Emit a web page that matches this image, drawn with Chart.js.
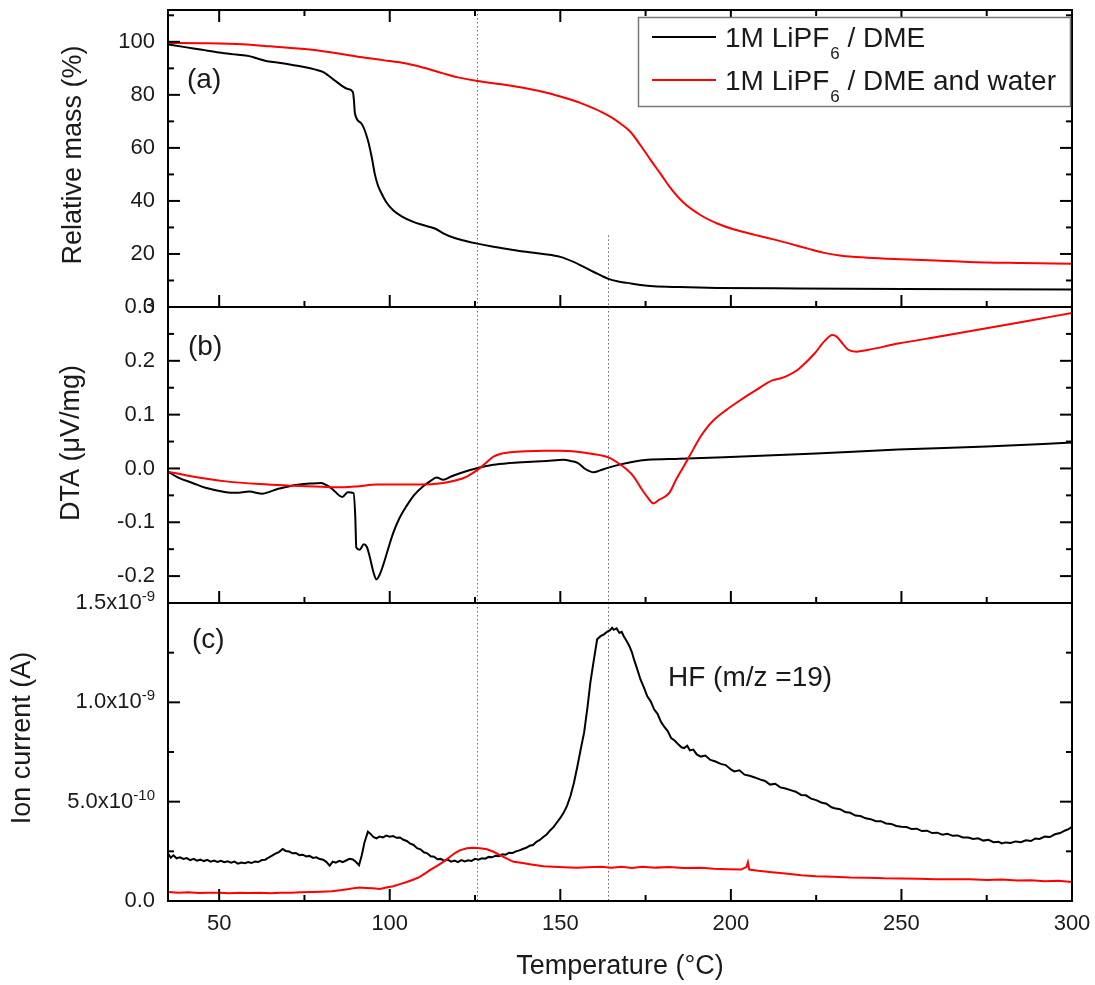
<!DOCTYPE html>
<html>
<head>
<meta charset="utf-8">
<script src="https://cdn.jsdelivr.net/npm/chart.js@4.4.1/dist/chart.umd.min.js"></script>
<style>
  body { margin: 0; background: #fff; }
  #wrap { position: relative; width: 1095px; height: 985px; }
  canvas { position: absolute; left: 0; }
</style>
</head>
<body>
<div id="wrap">
  <canvas id="cMass" width="1095" height="330" style="top:0px"></canvas>
  <canvas id="cDta" width="1095" height="336" style="top:290px"></canvas>
  <canvas id="cIon" width="1095" height="400" style="top:585px"></canvas>
</div>
<script>
// ---- series names (legend) ----
const legendMain = ['1M LiPF', '1M LiPF'];
const legendSub = ['6', '6'];
const legendTail = [' / DME', ' / DME and water'];
const seriesColors = ['#000000', '#ff0000'];

// ---- axis ticks ----
const tempMajor = [50, 100, 150, 200, 250, 300];
const tempMinor = [75, 125, 175, 225, 275];
const massMajor = [0, 20, 40, 60, 80, 100];
const massMinor = [10, 30, 50, 70, 90, 110];
const dtaMajor = [-0.2, -0.1, 0, 0.1, 0.2, 0.3];
const dtaMinor = [-0.15, -0.05, 0.05, 0.15, 0.25];
const ionMajor = [0, 5e-10, 1e-9, 1.5e-9];
const ionMinor = [2.5e-10, 7.5e-10, 1.25e-9];
const ionTickBase = ['0.0', '5.0x10', '1.0x10', '1.5x10'];
const ionTickExp = ['', '-10', '-9', '-9'];

// dotted guide lines (temperature, degC)
const markerTemps = [125.7, 163.9];

// ---- (a) relative mass, % ----
const massT1 = [35, 40, 45, 50, 55, 58.8, 61, 63.7, 67, 70, 74.5, 78, 80.4, 82, 84, 85.8, 87.5, 89.2, 89.5, 89.8, 91.7, 93.6, 94.8, 95.6, 96.5, 97.6, 99, 101, 103.5, 106.9, 110, 113.2, 116, 118.6, 122, 125.7, 130, 135.3, 140, 145, 150, 153.9, 157, 159.8, 163.9, 167, 169.6, 173.5, 177.4, 185, 196, 220, 250, 273.5, 300];
const mass1 = [99.0, 98.0, 97.0, 96.0, 95.2, 94.6, 93.8, 92.8, 92.2, 91.6, 90.6, 89.6, 88.7, 87.3, 85.3, 83.6, 82.3, 81.1, 78, 73, 69.2, 62.9, 56, 50.3, 46, 42.8, 39.5, 36.5, 34.2, 32.1, 30.8, 29.6, 27.6, 26.2, 25.0, 23.9, 22.8, 21.7, 20.8, 20.0, 18.9, 17.0, 15.0, 13.2, 10.7, 9.6, 9.1, 8.3, 7.8, 7.5, 7.2, 7.0, 6.8, 6.7, 6.6];
const massT2 = [35, 45, 56.9, 65, 76.5, 85, 91.2, 98, 104.9, 110, 115.7, 120, 125.7, 132, 140.2, 146, 152, 156, 159.8, 162, 165, 167.6, 170.6, 173.5, 176.5, 179.5, 182.4, 186, 191.2, 196, 201, 207, 212.8, 217, 222.6, 227, 232.4, 240, 250, 260, 269.6, 285, 300];
const mass2 = [99.6, 99.5, 99.1, 98.3, 97.1, 95.6, 94.3, 93.1, 91.8, 90.2, 88.1, 86.6, 85.2, 84.1, 82.4, 80.8, 78.6, 76.9, 74.9, 73.6, 71.5, 69.2, 66, 61, 55.4, 50, 44.7, 39.5, 34.6, 31.5, 29.2, 27.2, 25.4, 24.0, 22.0, 20.5, 19.3, 18.6, 18.0, 17.5, 17.0, 16.6, 16.3];

// ---- (b) DTA, uV/mg ----
const dtaT1 = [35, 38, 42.2, 46, 52, 55, 58.8, 62.7, 64.5, 66.7, 70, 73.5, 77, 79.9, 81.5, 83.3, 86.1, 87.7, 89.4, 89.9, 90.2, 91.2, 92.4, 93.3, 94.1, 95.2, 96.1, 97, 98, 99.5, 101, 102.8, 104.9, 107.2, 109.8, 111.8, 113.7, 115.7, 118, 120.6, 125.7, 130.4, 135, 140.2, 146, 151, 153, 155.2, 157.3, 159.8, 161.5, 163.9, 168, 171, 175.6, 185, 198, 225, 249, 275, 300];
const dta1 = [-0.006, -0.017, -0.027, -0.036, -0.044, -0.045, -0.043, -0.047, -0.044, -0.039, -0.034, -0.030, -0.028, -0.027, -0.031, -0.039, -0.053, -0.044, -0.046, -0.090, -0.147, -0.151, -0.141, -0.146, -0.163, -0.192, -0.206, -0.198, -0.181, -0.150, -0.120, -0.093, -0.070, -0.049, -0.033, -0.024, -0.017, -0.021, -0.015, -0.009, 0.001, 0.007, 0.010, 0.012, 0.014, 0.016, 0.014, 0.010, -0.001, -0.007, -0.004, 0.001, 0.008, 0.012, 0.016, 0.018, 0.021, 0.028, 0.035, 0.041, 0.048];
const dtaT2 = [35, 42.2, 52, 61.8, 71.6, 80, 86.3, 91, 96.1, 102, 108.8, 115.7, 119.5, 122.6, 126.5, 128.5, 130.4, 133, 135.3, 140, 145.1, 150, 154.9, 159.5, 163.9, 166.5, 169.5, 171.5, 173.6, 175.5, 177.3, 179, 180.5, 182, 184, 186, 187.8, 191, 193, 195, 198.5, 202.1, 207, 212.3, 214.4, 216.8, 219.5, 222, 224.6, 227.5, 229.7, 231, 232.5, 234.3, 236.8, 240, 249, 262, 274.5, 287, 300];
const dta2 = [-0.006, -0.015, -0.024, -0.029, -0.032, -0.034, -0.035, -0.033, -0.030, -0.030, -0.030, -0.027, -0.022, -0.015, 0.001, 0.012, 0.022, 0.028, 0.030, 0.032, 0.033, 0.033, 0.031, 0.027, 0.021, 0.012, -0.002, -0.015, -0.036, -0.053, -0.065, -0.058, -0.053, -0.045, -0.020, 0.002, 0.022, 0.058, 0.076, 0.090, 0.108, 0.124, 0.144, 0.164, 0.167, 0.173, 0.183, 0.197, 0.214, 0.237, 0.248, 0.245, 0.234, 0.221, 0.217, 0.220, 0.232, 0.246, 0.260, 0.274, 0.289];

// ---- (c) ion current, in units of 1e-10 A ----
const ionUnit = 1e-10;
const ionT1 = [35, 35.8, 36.6, 37.5, 38.5, 39.5, 40.5, 41.5, 42.5, 43.5, 44.5, 45.5, 46.5, 47.5, 48.5, 49.5, 50.5, 51.5, 52.5, 53.5, 54.5, 55.5, 56.5, 57.5, 58.5, 59.5, 60.5, 61.5, 62.5, 63.5, 64.5, 65.5, 66.5, 67.5, 68.6, 69.5, 70.5, 71.5, 72.5, 73.5, 74.5, 75.5, 76.5, 77.5, 78.5, 79.5, 80.5, 81.4, 82.4, 83.3, 84.2, 85.2, 86.2, 87.2, 88.2, 89.2, 90.2, 91, 91.8, 92.6, 93.6, 94.4, 95.2, 96.1, 97, 98, 99, 100, 101, 102, 103, 104, 105, 105.9, 107, 108, 109, 110, 111, 112, 113, 114, 115, 116, 117, 118, 119, 120, 121, 122, 123, 124, 125, 126, 127, 128, 129, 130, 131, 132, 133, 134, 135, 136, 137, 138, 139, 140, 141, 142, 143, 144, 145, 146, 147, 148, 149, 150, 151, 152, 153, 154, 155, 156, 157, 158, 158.8, 159.8, 160.8, 161.8, 162.8, 163.7, 164.5, 165.2, 165.7, 166.5, 167.3, 168, 168.6, 169.4, 170.2, 171, 171.6, 172.5, 173.5, 174.5, 175.5, 176.5, 177.5, 178.5, 179.5, 180.4, 181.5, 182.5, 183.5, 184.5, 185.5, 186.3, 187.2, 188, 189, 190, 191.2, 192.5, 194, 195.5, 197, 198.5, 200, 201, 202.5, 204, 205.5, 207, 208.5, 210, 211.5, 213, 214.5, 216, 217.5, 219, 220.6, 222, 223.5, 225, 226.5, 228, 229.5, 230.4, 232, 233.5, 235, 236.5, 238, 239.5, 241, 242.5, 244, 245.5, 247, 248.5, 250, 251.5, 253, 254.5, 256, 257.5, 259, 260.5, 262, 263.5, 265, 266.5, 268, 269.6, 271, 272.5, 274, 275.5, 277, 278.5, 279.4, 280.5, 282, 283.5, 285, 286.5, 288, 289.2, 290.5, 292, 293.5, 295, 296.5, 298, 299, 300];
const ion1 = [2.39, 2.18, 2.30, 2.15, 2.20, 2.12, 2.16, 2.06, 2.12, 2.03, 2.08, 2.01, 2.07, 1.98, 2.04, 1.97, 2.02, 1.95, 2.00, 1.93, 1.98, 1.88, 1.94, 1.90, 1.96, 1.91, 1.99, 1.96, 2.06, 2.08, 2.19, 2.28, 2.38, 2.46, 2.62, 2.52, 2.49, 2.40, 2.42, 2.31, 2.33, 2.24, 2.27, 2.17, 2.20, 2.11, 2.08, 1.97, 1.78, 1.98, 1.93, 2.02, 1.96, 2.04, 2.12, 2.09, 1.95, 1.80, 2.30, 2.95, 3.49, 3.38, 3.22, 3.15, 3.24, 3.20, 3.29, 3.24, 3.27, 3.18, 3.20, 3.08, 3.02, 2.90, 2.82, 2.66, 2.60, 2.45, 2.40, 2.25, 2.23, 2.10, 2.12, 2.02, 2.08, 1.98, 2.04, 1.96, 2.06, 1.99, 2.05, 2.02, 2.12, 2.08, 2.15, 2.13, 2.22, 2.20, 2.28, 2.26, 2.35, 2.33, 2.43, 2.42, 2.50, 2.55, 2.62, 2.68, 2.78, 2.82, 2.98, 3.07, 3.22, 3.35, 3.55, 3.72, 3.95, 4.18, 4.45, 4.80, 5.30, 5.95, 6.77, 7.65, 8.50, 9.80, 10.98, 12.10, 13.17, 13.33, 13.42, 13.55, 13.62, 13.75, 13.65, 13.72, 13.50, 13.55, 13.33, 13.10, 12.85, 12.52, 12.16, 11.70, 11.15, 10.75, 10.30, 10.05, 9.65, 9.42, 9.02, 8.79, 8.55, 8.20, 8.08, 7.90, 7.74, 7.70, 7.82, 7.58, 7.62, 7.38, 7.27, 7.32, 7.10, 7.02, 6.90, 6.84, 6.62, 6.52, 6.58, 6.36, 6.30, 6.22, 6.12, 6.04, 5.86, 5.90, 5.72, 5.66, 5.58, 5.50, 5.34, 5.32, 5.15, 5.08, 4.96, 4.90, 4.72, 4.67, 4.62, 4.48, 4.44, 4.30, 4.28, 4.16, 4.12, 4.02, 4.02, 3.90, 3.88, 3.78, 3.74, 3.72, 3.62, 3.64, 3.52, 3.54, 3.42, 3.44, 3.34, 3.38, 3.28, 3.30, 3.20, 3.20, 3.12, 3.16, 3.04, 3.08, 2.96, 2.98, 2.90, 2.95, 2.92, 3.00, 2.96, 3.06, 3.02, 3.15, 3.12, 3.24, 3.22, 3.36, 3.42, 3.55, 3.62, 3.74];
const ionT2 = [35, 38, 41, 44, 47, 50, 53, 56, 59, 62, 65, 68, 71, 74, 77, 80, 83, 86, 88, 90, 91.2, 93, 95, 97.1, 99, 101, 103, 105, 107, 108.8, 110.5, 112, 114, 115.7, 117.5, 119, 120.5, 122.6, 124.5, 126.5, 128.5, 130.4, 132.5, 134.5, 136.3, 138.5, 141, 143, 145.1, 148, 151, 154.9, 158, 161.8, 165, 168, 171, 174, 178, 182, 186, 191.2, 195, 199, 203, 204.6, 205, 205.4, 208, 212, 216, 220.6, 225, 230, 235, 240, 245, 250, 255, 260, 265, 270, 275, 279.4, 284, 288, 292, 296, 300];
const ion2 = [0.45, 0.42, 0.44, 0.40, 0.42, 0.41, 0.39, 0.42, 0.40, 0.41, 0.39, 0.42, 0.41, 0.44, 0.45, 0.47, 0.49, 0.55, 0.60, 0.66, 0.68, 0.66, 0.64, 0.60, 0.68, 0.74, 0.85, 0.96, 1.08, 1.21, 1.40, 1.58, 1.78, 1.97, 2.20, 2.40, 2.55, 2.65, 2.68, 2.65, 2.60, 2.48, 2.30, 2.12, 1.97, 1.92, 1.85, 1.80, 1.75, 1.72, 1.70, 1.67, 1.70, 1.72, 1.68, 1.72, 1.66, 1.72, 1.68, 1.71, 1.66, 1.67, 1.62, 1.60, 1.58, 1.72, 1.95, 1.58, 1.52, 1.45, 1.38, 1.30, 1.25, 1.22, 1.18, 1.17, 1.14, 1.13, 1.12, 1.10, 1.09, 1.10, 1.06, 1.08, 1.03, 1.05, 1.00, 1.02, 0.96];

const FONT = "'Liberation Sans', Arial, sans-serif";
const TEXT = '#1a1a1a';
Chart.defaults.font.family = FONT;
Chart.defaults.color = TEXT;

const pts = (xs, ys, k) => xs.map((t, i) => ({ x: t, y: ys[i] * (k || 1) }));

// frame, inward ticks, guide lines, panel texts
const panelPlugin = {
  id: 'panel',
  beforeDatasetsDraw(chart, args, o) {
    const { ctx, chartArea: a, scales } = chart;
    ctx.save();
    ctx.strokeStyle = '#666';
    ctx.lineWidth = 1;
    ctx.setLineDash([1.5, 2.5]);
    o.markers.forEach(m => {
      const px = Math.round(scales.x.getPixelForValue(m.t)) + 0.5;
      const top = m.from === undefined ? a.top : scales.y.getPixelForValue(m.from);
      ctx.beginPath(); ctx.moveTo(px, top); ctx.lineTo(px, a.bottom); ctx.stroke();
    });
    ctx.restore();
  },
  afterDatasetsDraw(chart, args, o) {
    const { ctx, chartArea: a, scales: { x, y } } = chart;
    ctx.save();
    ctx.strokeStyle = '#000';
    ctx.lineWidth = 2;
    const seg = (x1, y1, x2, y2) => { ctx.beginPath(); ctx.moveTo(x1, y1); ctx.lineTo(x2, y2); ctx.stroke(); };
    const yTicks = (vals, len) => vals.forEach(v => {
      const p = y.getPixelForValue(v);
      seg(a.left, p, a.left + len, p);
      seg(a.right, p, a.right - len, p);
    });
    yTicks(o.yMajor, 12);
    yTicks(o.yMinor, 6);
    const xTicks = (vals, len) => vals.forEach(v => {
      const p = x.getPixelForValue(v);
      seg(p, a.bottom, p, a.bottom - len);
      if (o.topTicks) seg(p, a.top, p, a.top + len);
    });
    xTicks(tempMajor, 12);
    xTicks(tempMinor, 6);
    ctx.strokeRect(a.left, a.top, a.right - a.left, a.bottom - a.top);

    // y axis title
    ctx.fillStyle = TEXT;
    ctx.font = '27px ' + FONT;
    ctx.textAlign = 'center';
    ctx.textBaseline = 'middle';
    ctx.save();
    ctx.translate(o.titleX, a.top + o.titleDy);
    ctx.rotate(-Math.PI / 2);
    ctx.fillText(o.title, 0, 0);
    ctx.restore();

    // panel tag
    ctx.font = '28px ' + FONT;
    ctx.textAlign = 'left';
    ctx.fillText(o.tag, a.left + o.tagDx, a.top + o.tagDy);

    if (o.extra) o.extra(chart, seg);
    ctx.restore();
  }
};

function drawLegend(chart, seg) {
  const ctx = chart.ctx;
  ctx.fillStyle = '#fff';
  ctx.fillRect(638, 17, 432, 89);
  ctx.strokeStyle = '#777';
  ctx.lineWidth = 1.5;
  ctx.strokeRect(638.5, 17.5, 432, 89);
  seriesColors.forEach((c, i) => {
    const yy = 37 + i * 43;
    ctx.strokeStyle = c;
    ctx.lineWidth = 2;
    seg(652, yy, 716, yy);
    ctx.fillStyle = TEXT;
    ctx.textAlign = 'left';
    ctx.textBaseline = 'alphabetic';
    let tx = 725;
    ctx.font = '28px ' + FONT;
    ctx.fillText(legendMain[i], tx, yy + 10);
    tx += ctx.measureText(legendMain[i]).width + 1;
    ctx.font = '17px ' + FONT;
    ctx.fillText(legendSub[i], tx, yy + 22);
    tx += ctx.measureText(legendSub[i]).width;
    ctx.font = '28px ' + FONT;
    ctx.fillText(legendTail[i], tx, yy + 10);
  });
}

function drawIonExtras(chart) {
  const { ctx, chartArea: a, scales: { y } } = chart;
  ctx.fillStyle = TEXT;
  ctx.textAlign = 'right';
  ctx.textBaseline = 'middle';
  const xr = a.left - 13;
  ionMajor.forEach((v, i) => {
    const p = y.getPixelForValue(v);
    ctx.font = '15px ' + FONT;
    const sw = ionTickExp[i] ? ctx.measureText(ionTickExp[i]).width : 0;
    if (sw) ctx.fillText(ionTickExp[i], xr, p - 6);
    ctx.font = '22px ' + FONT;
    ctx.fillText(ionTickBase[i], xr - sw, p);
  });
  ctx.textAlign = 'left';
  ctx.font = '28px ' + FONT;
  ctx.fillText('HF (m/z =19)', 668, a.top + 75);
}

function lineSet(data, color, smooth, order) {
  return {
    data, borderColor: color, borderWidth: 2, pointRadius: 0, fill: false, order,
    cubicInterpolationMode: smooth ? 'monotone' : 'default', tension: 0
  };
}

function makePanel(id, datasets, yRange, yMajor, labelFmt, showLabels, padding, xAxis, panelOpts) {
  return new Chart(document.getElementById(id), {
    type: 'line',
    data: { datasets },
    plugins: [panelPlugin],
    options: {
      responsive: false,
      animation: false,
      devicePixelRatio: 1,
      layout: { padding },
      plugins: { legend: { display: false }, tooltip: { enabled: false }, panel: panelOpts },
      scales: {
        x: Object.assign({
          type: 'linear', min: 35, max: 300,
          grid: { display: false, drawTicks: false, tickLength: 0 },
          border: { display: false },
          afterBuildTicks: s => { s.ticks = tempMajor.map(v => ({ value: v })); }
        }, xAxis),
        y: {
          type: 'linear', min: yRange[0], max: yRange[1],
          grid: { display: false, drawTicks: false, tickLength: 0 },
          border: { display: false },
          afterBuildTicks: s => { s.ticks = yMajor.map(v => ({ value: v })); },
          ticks: { display: showLabels, padding: 13, font: { size: 22 }, color: TEXT, callback: labelFmt },
          afterFit: s => { s.width = 168; s.paddingTop = 0; s.paddingBottom = 0; }
        }
      }
    }
  });
}

// (a) relative mass
makePanel('cMass',
  [lineSet(pts(massT1, mass1), seriesColors[0], true, 1), lineSet(pts(massT2, mass2), seriesColors[1], true, 0)],
  [0, 112], massMajor, v => String(v), true,
  { top: 10, right: 23, bottom: 23, left: 0 },
  { display: false },
  { yMajor: massMajor, yMinor: massMinor, topTicks: true,
    markers: [{ t: markerTemps[0] }, { t: markerTemps[1], from: 27 }],
    title: 'Relative mass (%)', titleX: 74, titleDy: 145,
    tag: '(a)', tagDx: 19, tagDy: 70, extra: drawLegend });

// (b) DTA
makePanel('cDta',
  [lineSet(pts(dtaT1, dta1), seriesColors[0], true, 1), lineSet(pts(dtaT2, dta2), seriesColors[1], true, 0)],
  [-0.25, 0.3], dtaMajor, v => v.toFixed(1), true,
  { top: 17, right: 23, bottom: 23, left: 0 },
  { display: false },
  { yMajor: dtaMajor, yMinor: dtaMinor, topTicks: false,
    markers: [{ t: markerTemps[0] }, { t: markerTemps[1] }],
    title: 'DTA (\u03BCV/mg)', titleX: 72, titleDy: 136,
    tag: '(b)', tagDx: 20, tagDy: 40 });

// (c) ion current
makePanel('cIon',
  [lineSet(pts(ionT1, ion1, ionUnit), seriesColors[0], false, 1), lineSet(pts(ionT2, ion2, ionUnit), seriesColors[1], false, 0)],
  [0, 1.5e-9], ionMajor, v => '', false,
  { top: 18, right: 23, bottom: 0, left: 0 },
  {
    display: true,
    ticks: { padding: 10, font: { size: 22 }, color: TEXT, maxRotation: 0 },
    title: { display: true, text: 'Temperature (\u00B0C)', font: { size: 27 }, color: TEXT, padding: { top: 0, bottom: 2 } },
    afterFit: s => { s.height = 84; s.paddingLeft = 0; s.paddingRight = 0; }
  },
  { yMajor: ionMajor, yMinor: ionMinor, topTicks: false,
    markers: [{ t: markerTemps[0] }, { t: markerTemps[1] }],
    title: 'Ion current (A)', titleX: 23, titleDy: 135,
    tag: '(c)', tagDx: 24, tagDy: 37, extra: drawIonExtras });
</script>
</body>
</html>
